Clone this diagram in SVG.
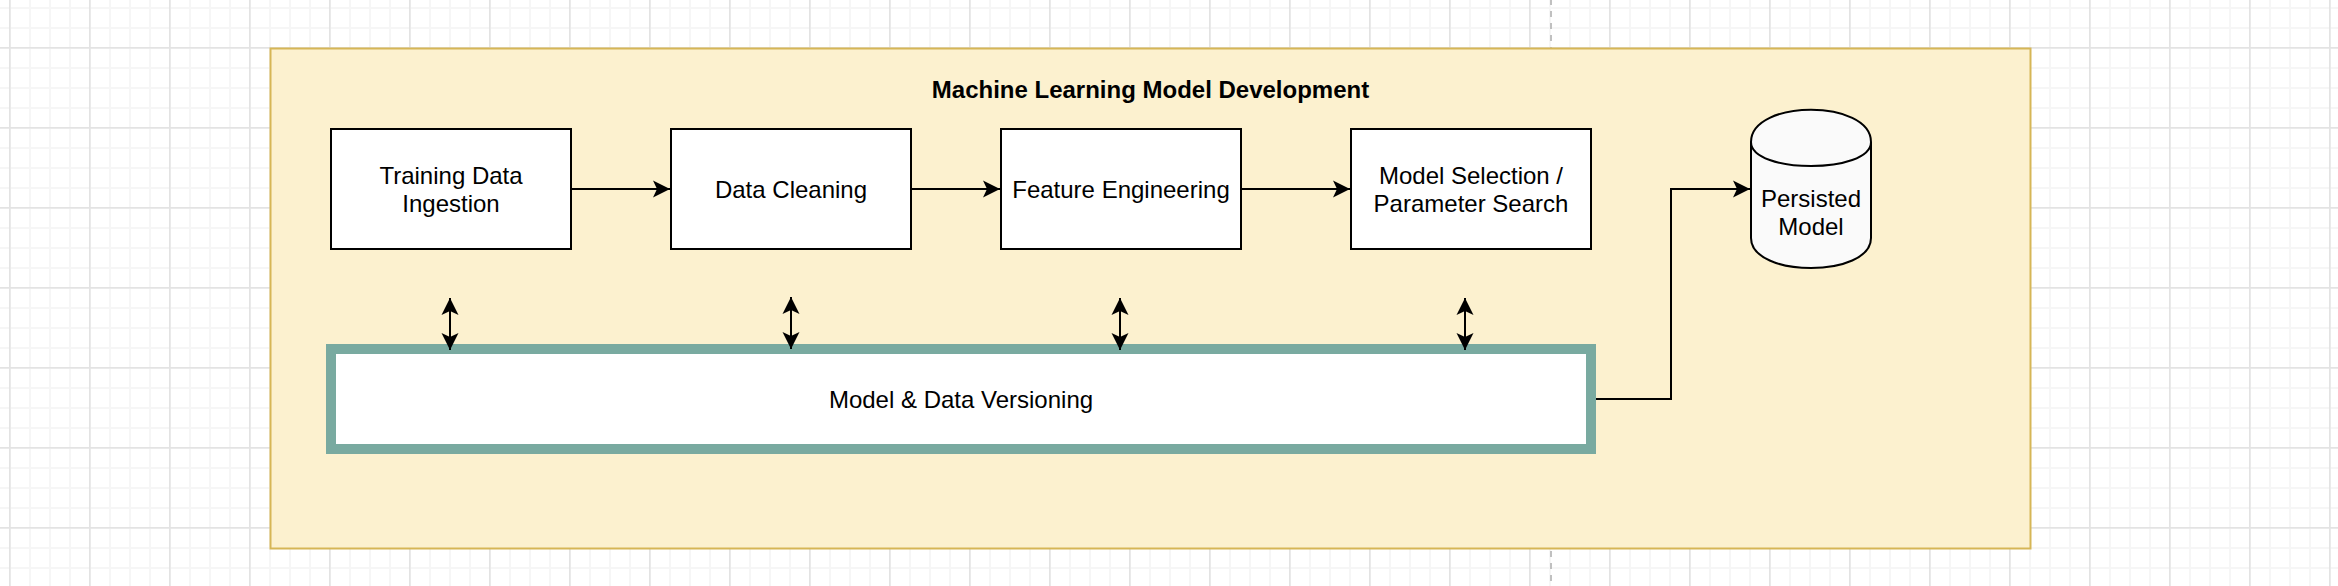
<svg xmlns="http://www.w3.org/2000/svg" width="2338" height="586" viewBox="0 0 2338 586">
<defs>
<style>
.box{fill:#ffffff;stroke:#000000;stroke-width:2}
.t{font-family:"Liberation Sans",Arial,Helvetica,sans-serif;font-size:24px;fill:#000000;text-anchor:middle}
.title{font-weight:bold}
.edge{fill:none;stroke:#000000;stroke-width:2}
</style>
<pattern id="gridMinor" patternUnits="userSpaceOnUse" x="9" y="7" width="20" height="20">
<rect x="0" y="0" width="2" height="20" fill="#f6f6f6"/>
<rect x="0" y="0" width="20" height="2" fill="#f6f6f6"/>
</pattern>
<pattern id="gridMajor" patternUnits="userSpaceOnUse" x="9" y="47" width="80" height="80">
<rect x="0" y="0" width="1.6" height="80" fill="#e3e3e3"/>
<rect x="0" y="0" width="80" height="1.6" fill="#e3e3e3"/>
</pattern>
<marker id="arr" markerUnits="userSpaceOnUse" markerWidth="20" markerHeight="20" viewBox="-18 -10 20 20" refX="0" refY="0" orient="auto-start-reverse">
<path d="M0,0 L-17,-8.5 L-13,0 L-17,8.5 Z" fill="#000000"/>
</marker>
</defs>
<rect x="0" y="0" width="2338" height="586" fill="#ffffff"/>
<rect x="0" y="0" width="2338" height="586" fill="url(#gridMinor)"/>
<rect x="0" y="0" width="2338" height="586" fill="url(#gridMajor)"/>
<line x1="1551" y1="0" x2="1551" y2="586" stroke="#c0c0c0" stroke-width="2" stroke-dasharray="6 6" stroke-dashoffset="1"/>

<g id="container">
<rect x="270.5" y="48.5" width="1760" height="500" fill="#fcf1cf" stroke="#d6b656" stroke-width="2"/>
<text class="t title" x="1150.5" y="98">Machine Learning Model Development</text>
</g>

<g id="training-data-ingestion">
<rect class="box" x="331" y="129" width="240" height="120"/>
<text class="t" x="451" y="184">Training Data</text>
<text class="t" x="451" y="211.6">Ingestion</text>
</g>

<g id="data-cleaning">
<rect class="box" x="671" y="129" width="240" height="120"/>
<text class="t" x="791" y="197.6">Data Cleaning</text>
</g>

<g id="feature-engineering">
<rect class="box" x="1001" y="129" width="240" height="120"/>
<text class="t" x="1121" y="197.6">Feature Engineering</text>
</g>

<g id="model-selection">
<rect class="box" x="1351" y="129" width="240" height="120"/>
<text class="t" x="1471" y="184">Model Selection /</text>
<text class="t" x="1471" y="211.6">Parameter Search</text>
</g>

<g id="versioning">
<rect x="331" y="349" width="1260" height="100" fill="#ffffff" stroke="#79aaa0" stroke-width="10"/>
<text class="t" x="961" y="407.6">Model &amp; Data Versioning</text>
</g>

<g id="persisted-model">
<path d="M1751,142 C1751,99 1871,99 1871,142 L1871,238 C1871,278 1751,278 1751,238 Z" fill="#fafafa" stroke="#000000" stroke-width="2"/>
<path d="M1751,142 C1751,174 1871,174 1871,142" fill="none" stroke="#000000" stroke-width="2"/>
<text class="t" x="1811" y="207">Persisted</text>
<text class="t" x="1811" y="234.6">Model</text>
</g>

<g id="connectors">
<path class="edge" d="M572,189 H670" marker-end="url(#arr)"/>
<path class="edge" d="M912,189 H1000" marker-end="url(#arr)"/>
<path class="edge" d="M1242,189 H1350" marker-end="url(#arr)"/>
<path class="edge" d="M1596,399 H1671 V189 H1750" marker-end="url(#arr)"/>
<path class="edge" d="M450,298 V350" marker-start="url(#arr)" marker-end="url(#arr)"/>
<path class="edge" d="M791,297 V349" marker-start="url(#arr)" marker-end="url(#arr)"/>
<path class="edge" d="M1120,298 V350" marker-start="url(#arr)" marker-end="url(#arr)"/>
<path class="edge" d="M1465,298 V350" marker-start="url(#arr)" marker-end="url(#arr)"/>
</g>
</svg>
